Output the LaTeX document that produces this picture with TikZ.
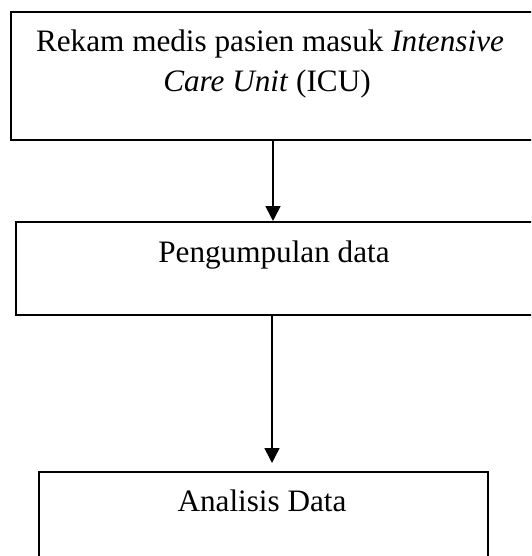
\documentclass[tikz,border=0pt]{standalone}
\usepackage{fontspec}
\setmainfont{Liberation Serif}
\usetikzlibrary{arrows.meta}
\begin{document}
\begin{tikzpicture}[x=1pt,y=-1pt,
  box/.style={draw=black,line width=1.6pt,rectangle,inner sep=0pt,anchor=north west},
  txt/.style={inner sep=0pt,anchor=base,font=\fontsize{31.2}{40}\selectfont},
  arr/.style={line width=1.6pt,-{Triangle[length=15pt,width=15pt]}}]
\useasboundingbox (0,0) rectangle (531,556);
\clip (0,0) rectangle (531,556);
\fill[white] (0,0) rectangle (531,556);
\node[box,minimum width=560pt,minimum height=128pt] (b1) at (10,11) {};
\node[box,minimum width=560pt,minimum height=93pt] (b2) at (15,221) {};
\node[box,minimum width=449pt,minimum height=140pt] (b3) at (38,471) {};
\node[txt] (t1a) at (270,51.7) {Rekam medis pasien masuk \textit{Intensive}};
\node[txt] (t1b) at (267,91.7) {\textit{Care Unit} (ICU)};
\node[txt] (t2) at (274,262.7) {Pengumpulan data};
\node[txt] (t3) at (262,511.7) {Analisis Data};
\coordinate (c1) at (273,0);
\coordinate (c2) at (272,0);
\coordinate (e2) at (272,463);
\draw[arr] (b1.south -| c1) -- (b2.north -| c1);
\draw[arr] (b2.south -| c2) -- (e2);
\end{tikzpicture}
\end{document}
